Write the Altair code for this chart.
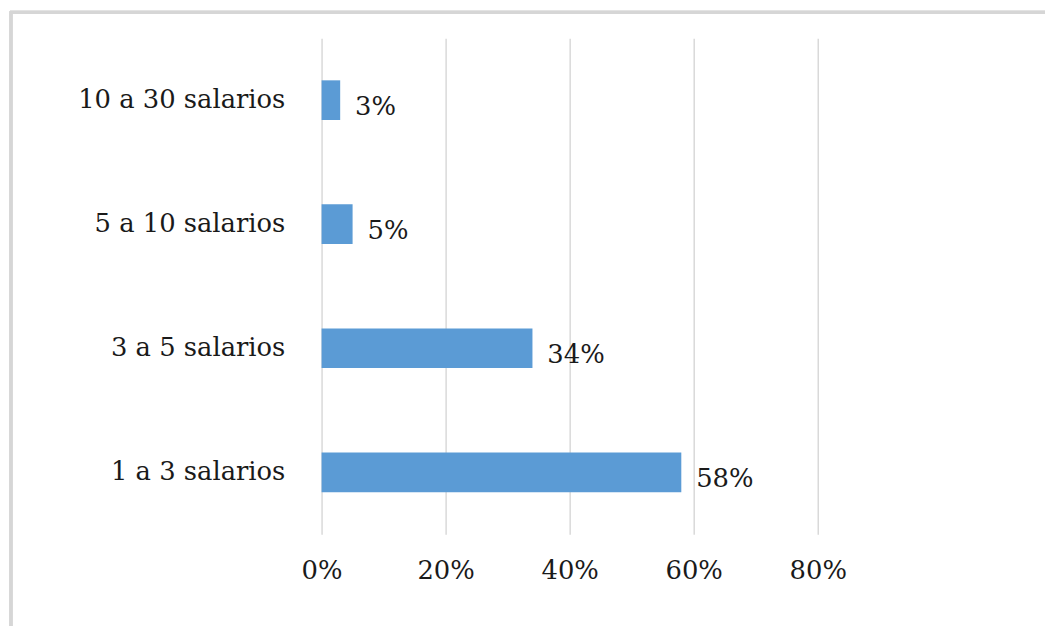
import altair as alt
import pandas as pd

categories = ["10 a 30 salarios", "5 a 10 salarios", "3 a 5 salarios", "1 a 3 salarios"]
values = [0.03, 0.05, 0.34, 0.58]
labels = ["3%", "5%", "34%", "58%"]

df = pd.DataFrame({"cat": categories, "val": values, "lab": labels})

FONT = "DejaVu Serif"
FS = 26

x = alt.X("val:Q", scale=alt.Scale(domain=[0, 0.8], nice=False),
          axis=alt.Axis(format=".0%", values=[0, 0.2, 0.4, 0.6, 0.8], title=None,
                        grid=True, gridColor="#d9d9d9", gridWidth=1.5, domain=False,
                        ticks=False, labelFont=FONT, labelFontSize=FS, labelColor="#1a1a1a",
                        labelPadding=24, labelFlush=False))
y = alt.Y("cat:N", sort=categories,
          scale=alt.Scale(paddingInner=0.68, paddingOuter=0.34),
          axis=alt.Axis(title=None, domain=False, ticks=False, labelFont=FONT,
                        labelFontSize=FS, labelColor="#1a1a1a", labelPadding=37,
                        labelLimit=400))

bars = alt.Chart(df).mark_bar(color="#5b9bd5").encode(x=x, y=y)
text = alt.Chart(df).mark_text(align="left", dx=15, dy=7, font=FONT, fontSize=FS,
                               color="#1a1a1a").encode(x="val:Q", y=alt.Y("cat:N", sort=categories), text="lab:N")

frame_top = alt.Chart(df).mark_rule(color="#d6d6d6", strokeWidth=3).encode(
    x=alt.value(-314), x2=alt.value(800), y=alt.value(-26))
frame_left = alt.Chart(df).mark_rule(color="#d6d6d6", strokeWidth=3).encode(
    x=alt.value(-313), y=alt.value(-27), y2=alt.value(700))

chart = alt.layer(frame_top, frame_left, bars, text).properties(
    width=500, height=500,
    autosize=alt.AutoSizeParams(type="none"),
    padding={"left": 316, "top": 28, "right": 229, "bottom": 90},
).configure(background="white", font=FONT).configure_view(strokeWidth=0)

chart.save("out.html", embed_options={"renderer": "svg", "actions": False})
